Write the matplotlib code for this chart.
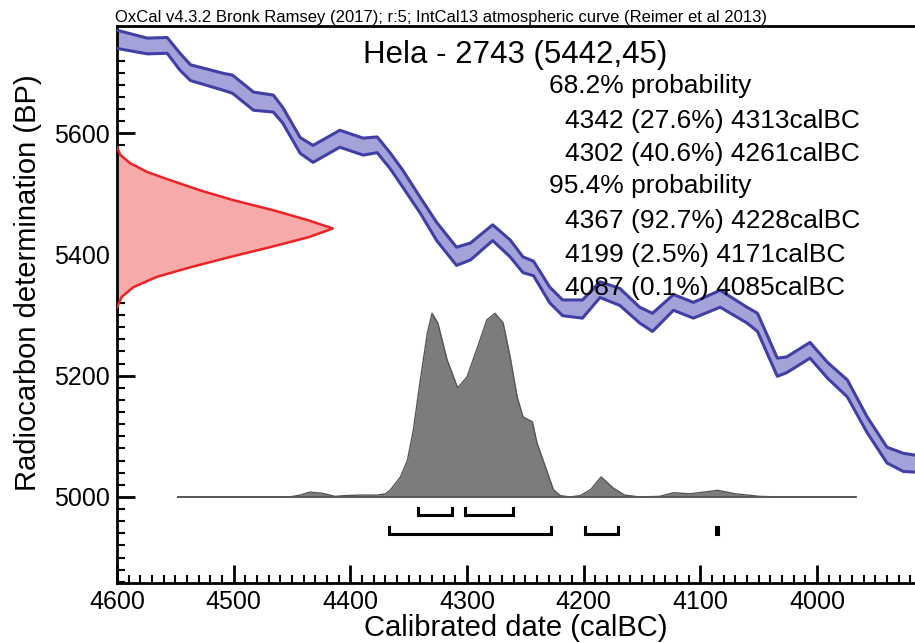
import numpy as np
import matplotlib
matplotlib.use('Agg')
import matplotlib.pyplot as plt
import matplotlib.ticker as ticker

plt.rcParams['font.family'] = ['Liberation Sans', 'DejaVu Sans']

########### Dados #########
# curva de calibracao IntCal13: data (calBC), centro (BP), meia largura (BP)
curva_data = [4600, 4574, 4557, 4546, 4537, 4509, 4501, 4483, 4466, 4458,
              4443, 4432, 4409, 4389, 4377, 4366, 4355, 4340, 4326, 4309,
              4297, 4278, 4263, 4252, 4243, 4229, 4218, 4201, 4186, 4169,
              4152, 4141, 4123, 4106, 4083, 4060, 4051, 4034, 4026, 4006,
              3991, 3974, 3957, 3940, 3926, 3916]
curva_bp = [5755, 5744, 5745, 5718, 5700, 5685, 5681, 5653, 5649, 5630,
            5580, 5566, 5591, 5578, 5581, 5555, 5525, 5481, 5438, 5397,
            5405, 5436, 5410, 5383, 5377, 5333, 5312, 5310, 5342, 5330,
            5300, 5288, 5321, 5308, 5327, 5300, 5288, 5214, 5218, 5242,
            5209, 5179, 5119, 5069, 5057, 5055]
curva_sig = [15, 13, 13, 14, 13, 14, 15, 15, 14, 13,
             13, 14, 14, 14, 13, 13, 14, 13, 15, 15,
             14, 13, 14, 13, 12, 13, 13, 15, 13, 14,
             13, 15, 13, 13, 14, 13, 15, 15, 13, 13,
             13, 14, 13, 13, 15, 14]

# medida de radiocarbono 5442 +- 45 BP (perfil vermelho)
rc_bp = [5577, 5564, 5551, 5536, 5523, 5506, 5490, 5473, 5457, 5443,
         5429, 5412, 5396, 5379, 5363, 5346, 5330, 5313]
rc_data = [4600, 4597, 4589, 4574, 4555, 4529, 4501, 4466, 4437, 4415,
           4435, 4469, 4503, 4537, 4566, 4586, 4596, 4600]

# distribuicao calibrada (probabilidade relativa)
post_data = [4548, 4452, 4443, 4435, 4424, 4413, 4405, 4392, 4377, 4370,
             4366, 4357, 4351, 4346, 4340, 4334, 4330, 4325, 4317, 4308,
             4300, 4291, 4283, 4276, 4269, 4263, 4257, 4252, 4244, 4240,
             4231, 4226, 4220, 4212, 4203, 4194, 4185, 4175, 4165, 4152,
             4135, 4123, 4109, 4085, 4070, 4049, 4032, 3967]
post_prob = [0, 0, 0.010, 0.026, 0.020, 0.003, 0.007, 0.010, 0.010, 0.017,
             0.036, 0.109, 0.201, 0.363, 0.637, 0.891, 1.0, 0.947, 0.746, 0.594,
             0.653, 0.815, 0.964, 1.0, 0.947, 0.762, 0.545, 0.436, 0.409, 0.294,
             0.132, 0.040, 0.007, 0, 0.007, 0.040, 0.109, 0.050, 0.010, 0,
             0.003, 0.023, 0.017, 0.036, 0.017, 0.003, 0, 0]

# intervalos de probabilidade (calBC)
int68 = [(4342, 4313), (4302, 4261)]
int95 = [(4367, 4228), (4199, 4171), (4087, 4085)]

cabecalho = ('OxCal v4.3.2 Bronk Ramsey (2017); r:5; '
             'IntCal13 atmospheric curve (Reimer et al 2013)')
titulo = 'Hela - 2743 (5442,45)'
linhas = ['68.2% probability',
          '4342 (27.6%) 4313calBC',
          '4302 (40.6%) 4261calBC',
          '95.4% probability',
          '4367 (92.7%) 4228calBC',
          '4199 (2.5%) 4171calBC',
          '4087 (0.1%) 4085calBC']
#################################################

W, H = 915, 643
fig = plt.figure(figsize=(W/100, H/100), dpi=100)
ax = fig.add_axes([117/W, 60/H, 798/W, 557/H])

# curva de calibracao
c = np.array(curva_bp)
s = np.array(curva_sig)
ax.fill_between(curva_data, c - s, c + s, color='#a3a3d9', lw=0, zorder=2)
ax.plot(curva_data, c + s, color='#3f3fa6', lw=2.2, zorder=3)
ax.plot(curva_data, c - s, color='#3f3fa6', lw=2.2, zorder=3)

# perfil da medida
ax.fill_betweenx(rc_bp, rc_data, 4600, color='#f6aaaa', lw=0, zorder=2)
ax.plot(rc_data, rc_bp, color='#ee2222', lw=1.8, zorder=3)

# distribuicao calibrada
PICO = 303
base = 5000
ax.fill_between(post_data, base, base + PICO*np.array(post_prob),
                color='#7d7b7b', lw=0, zorder=2)
ax.plot(post_data, base + PICO*np.array(post_prob), color='#555555', lw=1, zorder=3)
ax.plot([post_data[0], post_data[-1]], [base, base], color='#555555', lw=1.3, zorder=3)

# intervalos
def colchete(a, b, y, h=11):
    ax.plot([a, a, b, b], [y + h, y, y, y + h], color='black', lw=2.2,
            solid_joinstyle='miter', zorder=4)

for a, b in int68:
    colchete(a, b, 4970)
for a, b in int95:
    colchete(a, b, 4939)

ax.set_xlim(4600, 3916)
ax.set_ylim(4858, 5777)

for lado in ['left', 'bottom', 'top']:
    ax.spines[lado].set_linewidth(2)
ax.spines['right'].set_visible(False)

ax.xaxis.set_major_locator(ticker.MultipleLocator(100))
ax.xaxis.set_minor_locator(ticker.MultipleLocator(10))
ax.yaxis.set_major_locator(ticker.MultipleLocator(200))
ax.yaxis.set_minor_locator(ticker.MultipleLocator(20))
ax.tick_params(which='major', direction='in', length=13, width=2,
               labelsize=18, pad=5, top=False, right=False)
ax.tick_params(which='minor', direction='in', length=6, width=1.5,
               top=False, right=False)

ax.set_xlabel('Calibrated date (calBC)', fontsize=21)
ax.set_ylabel('Radiocarbon determination (BP)', fontsize=21)
ax.xaxis.set_label_coords(0.5, -0.056)
ax.yaxis.set_label_coords(-0.094, 0.539)

# textos
fig.text(115/W, 1 - 22/H, cabecalho, fontsize=12, va='baseline')
fig.text(363/W, 1 - 63/H, titulo, fontsize=22.5, va='baseline')
base_y = [93, 128, 161, 193, 228, 262, 295]
for txt, yb in zip(linhas, base_y):
    x0 = 549 if 'probability' in txt else 565
    fig.text(x0/W, 1 - yb/H, txt, fontsize=19, va='baseline')

fig.savefig('out.png', dpi=100)
